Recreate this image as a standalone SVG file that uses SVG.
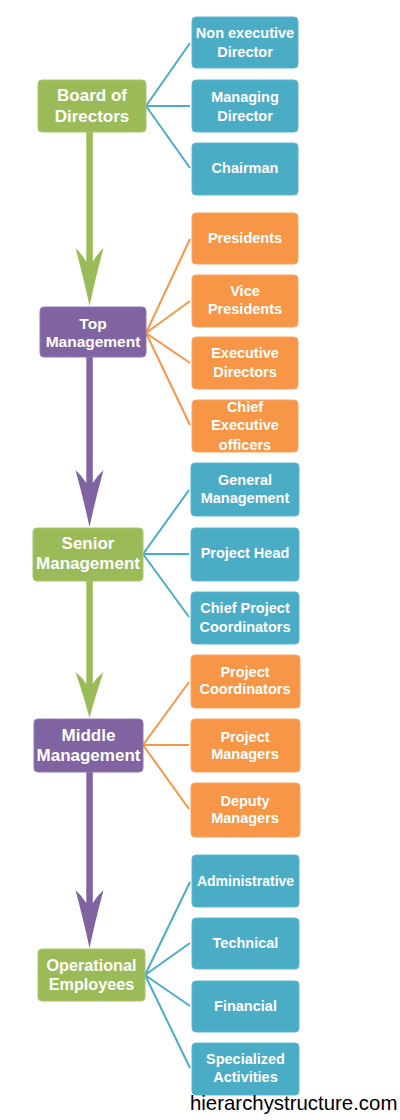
<svg xmlns="http://www.w3.org/2000/svg" width="400" height="1120" viewBox="0 0 400 1120">
<defs>
<style>
.box rect{rx:4;ry:4}
.teal rect{fill:#4BACC6;stroke:#5DB8CF;stroke-width:1}
.orange rect{fill:#F79646;stroke:#F9A566;stroke-width:1}
.green rect{fill:#9BBB59;stroke:#A9C56E;stroke-width:1}
.purple rect{fill:#8064A2;stroke:#9079AF;stroke-width:1}
text{font-family:"Liberation Sans",Arial,sans-serif;font-weight:bold;fill:#FFFFFF;text-anchor:middle;dominant-baseline:central}
.child text{font-size:14.5px}
.main text{font-size:17px}
.lt{stroke:#4BACC6;stroke-width:2;fill:none}
.lo{stroke:#F79646;stroke-width:2;fill:none}
.ag{fill:#9BBB59}
.ap{fill:#8064A2}
.wm{font-family:"Liberation Sans",Arial,sans-serif;font-weight:normal;fill:#000000;text-anchor:start;dominant-baseline:alphabetic;font-size:20.4px}
</style>
</defs>
<rect x="0" y="0" width="400" height="1120" fill="#FFFFFF"/>

<g id="connectors">
<!-- Board -->
<path class="lt" d="M146,106 L190,43 M146,106 L190,106 M146,106 L190,168"/>
<!-- Top -->
<path class="lo" d="M146,333 L190,239 M146,333 L190,301 M146,333 L190,363 M146,333 L190,425"/>
<!-- Senior -->
<path class="lt" d="M143,554 L189,490 M143,554 L189,554 M143,554 L189,617"/>
<!-- Middle -->
<path class="lo" d="M143,745 L189,682 M143,745 L189,745 M143,745 L189,809"/>
<!-- Operational -->
<path class="lt" d="M145,975 L190,882 M145,975 L190,943 M145,975 L190,1006 M145,975 L190,1068"/>
<!-- vertical arrows -->
<rect class="ag" x="86.3" y="132" width="6.5" height="135"/>
<path class="ag" d="M89.5,306 Q84,280 75.5,248 Q82,254 86.3,262 L92.8,262 Q97,254 103.5,248 Q95,280 89.5,306 Z"/>
<rect class="ap" x="86.3" y="357" width="6.5" height="128"/>
<path class="ap" d="M89.5,527 Q84,501 75.5,470 Q82,476 86.3,483 L92.8,483 Q97,476 103.5,470 Q95,501 89.5,527 Z"/>
<rect class="ag" x="86.3" y="581" width="6.5" height="106"/>
<path class="ag" d="M89.5,718 Q84,697 75.5,672 Q82,677 86.3,684 L92.8,684 Q97,677 103.5,672 Q95,697 89.5,718 Z"/>
<rect class="ap" x="86.3" y="772" width="6.5" height="135"/>
<path class="ap" d="M89.5,948 Q84,922 75.5,890 Q82,896 86.3,903 L92.8,903 Q97,896 103.5,890 Q95,922 89.5,948 Z"/>
</g>

<g id="board" class="box main green"><rect x="38" y="80" width="108" height="52"/><text x="92" y="95">Board of</text><text x="92" y="116">Directors</text></g>
<g id="nonexec" class="box child teal"><rect x="192" y="17" width="106" height="51"/><text x="245" y="33">Non executive</text><text x="245" y="52">Director</text></g>
<g id="managing" class="box child teal"><rect x="192" y="80" width="106" height="52"/><text x="245" y="97">Managing</text><text x="245" y="116">Director</text></g>
<g id="chairman" class="box child teal"><rect x="192" y="143" width="106" height="52"/><text x="245" y="168">Chairman</text></g>

<g id="top" class="box main purple"><rect x="40" y="307" width="106" height="50"/><text x="93" y="323" style="font-size:15.5px">Top</text><text x="93" y="341" style="font-size:15.5px">Management</text></g>
<g id="presidents" class="box child orange"><rect x="192" y="213" width="106" height="51"/><text x="245" y="238">Presidents</text></g>
<g id="vicepresidents" class="box child orange"><rect x="192" y="275" width="106" height="52"/><text x="245" y="291">Vice</text><text x="245" y="309">Presidents</text></g>
<g id="execdirectors" class="box child orange"><rect x="192" y="337" width="106" height="52"/><text x="245" y="353">Executive</text><text x="245" y="372">Directors</text></g>
<g id="ceo" class="box child orange"><rect x="192" y="400" width="106" height="52"/><text x="245" y="407">Chief</text><text x="245" y="425">Executive</text><text x="245" y="445">officers</text></g>

<g id="senior" class="box main green"><rect x="33" y="528" width="110" height="53"/><text x="88" y="543">Senior</text><text x="88" y="563">Management</text></g>
<g id="generalmgmt" class="box child teal"><rect x="191" y="463" width="108" height="53"/><text x="245" y="480">General</text><text x="245" y="498">Management</text></g>
<g id="projecthead" class="box child teal"><rect x="191" y="528" width="108" height="53"/><text x="245" y="553">Project Head</text></g>
<g id="chiefprojcoord" class="box child teal"><rect x="191" y="592" width="108" height="52"/><text x="245" y="608">Chief Project</text><text x="245" y="627">Coordinators</text></g>

<g id="middle" class="box main purple"><rect x="34" y="719" width="109" height="53"/><text x="88.5" y="735">Middle</text><text x="88.5" y="755">Management</text></g>
<g id="projcoord" class="box child orange"><rect x="191" y="655" width="109" height="53"/><text x="245" y="672">Project</text><text x="245" y="689">Coordinators</text></g>
<g id="projmanagers" class="box child orange"><rect x="191" y="719" width="109" height="53"/><text x="245" y="737">Project</text><text x="245" y="754">Managers</text></g>
<g id="deputymanagers" class="box child orange"><rect x="191" y="783" width="109" height="54"/><text x="245" y="801">Deputy</text><text x="245" y="818">Managers</text></g>

<g id="operational" class="box main green"><rect x="38" y="949" width="107" height="52"/><text x="91.5" y="965" style="font-size:16.2px">Operational</text><text x="91.5" y="984" style="font-size:16.2px">Employees</text></g>
<g id="administrative" class="box child teal"><rect x="192" y="855" width="107" height="52"/><text x="245.5" y="881" style="font-size:14px">Administrative</text></g>
<g id="technical" class="box child teal"><rect x="192" y="918" width="107" height="51"/><text x="245.5" y="943">Technical</text></g>
<g id="financial" class="box child teal"><rect x="192" y="981" width="107" height="51"/><text x="245.5" y="1006">Financial</text></g>
<g id="specialized" class="box child teal"><rect x="192" y="1043" width="107" height="52"/><text x="245.5" y="1059">Specialized</text><text x="245.5" y="1077">Activities</text></g>

<text class="wm" x="190" y="1110">hierarchystructure.com</text>
</svg>
